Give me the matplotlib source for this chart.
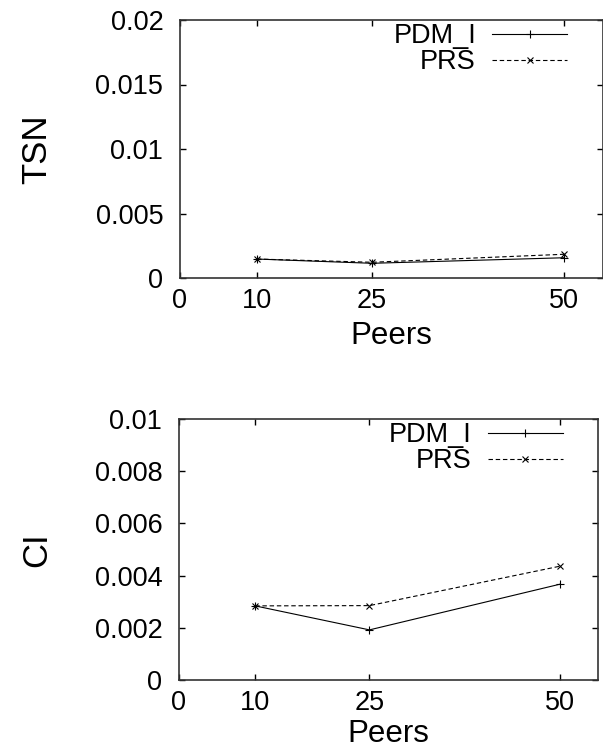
import matplotlib
matplotlib.use("Agg")
import matplotlib.pyplot as plt
from matplotlib.ticker import FuncFormatter

plt.rcParams['font.family'] = ['Liberation Sans', 'DejaVu Sans']

peers = [10, 25, 50]
x_ticks = [0, 10, 25, 50]

tsn_pdm = [0.00147, 0.00114, 0.00157]
tsn_prs = [0.00147, 0.00122, 0.00184]
tsn_ticks = [0, 0.005, 0.01, 0.015, 0.02]

ci_pdm = [0.00284, 0.00192, 0.00367]
ci_prs = [0.00284, 0.00285, 0.00436]
ci_ticks = [0, 0.002, 0.004, 0.006, 0.008, 0.01]

W, H = 603, 749
fig = plt.figure(figsize=(W / 100, H / 100), dpi=100)

def px_axes(l, t, r, b):
    return fig.add_axes([l / W, 1 - b / H, (r - l) / W, (b - t) / H])

fmt = FuncFormatter(lambda v, p: '%g' % v)

def style(ax, yticks, ylabel, xlab_y, ylab_x):
    ax.set_xlim(0, 55)
    ax.set_ylim(yticks[0], yticks[-1])
    ax.set_xticks(x_ticks)
    ax.set_yticks(yticks)
    ax.yaxis.set_major_formatter(fmt)
    ax.tick_params(direction='in', length=4, width=1, top=True, right=True,
                   labelsize=19.5, colors='black')
    ax.tick_params(axis='x', pad=7)
    ax.tick_params(axis='y', pad=12)
    for s in ax.spines.values():
        s.set_linewidth(1.2)
        s.set_color('#333333')
    ax.set_xlabel('Peers', fontsize=22.5, va='center')
    ax.xaxis.set_label_coords(0.5, xlab_y)
    ax.set_ylabel(ylabel, fontsize=25, va='center')
    ax.yaxis.set_label_coords(ylab_x, 0.5)
    fs = 19.5
    leg = ax.legend(loc='upper right', frameon=False, markerfirst=False,
                    fontsize=fs, handlelength=75 / (fs * 100 / 72), handletextpad=0.6,
                    borderaxespad=0.0, borderpad=0.12, labelspacing=0.0,
                    bbox_to_anchor=(1 - 32 / (ax.get_position().width * W), 1.0))
    return leg

ax1 = px_axes(180, 20, 602.5, 278)
ax1.plot(peers, tsn_pdm, color='black', lw=0.8, marker='+', ms=6, mew=0.8, label='PDM_I')
ax1.plot(peers, tsn_prs, color='black', lw=0.8, ls=(0, (4, 2.5)), marker='x', ms=4.5, mew=0.8, label='PRS')
style(ax1, tsn_ticks, 'TSN', -0.225, -0.34)

ax2 = px_axes(179, 419, 598, 680)
ax2.plot(peers, ci_pdm, color='black', lw=0.8, marker='+', ms=6, mew=0.8, label='PDM_I')
ax2.plot(peers, ci_prs, color='black', lw=0.8, ls=(0, (4, 2.5)), marker='x', ms=4.5, mew=0.8, label='PRS')
style(ax2, ci_ticks, 'CI', -0.207, -0.34)

fig.savefig('out.png', dpi=100)
